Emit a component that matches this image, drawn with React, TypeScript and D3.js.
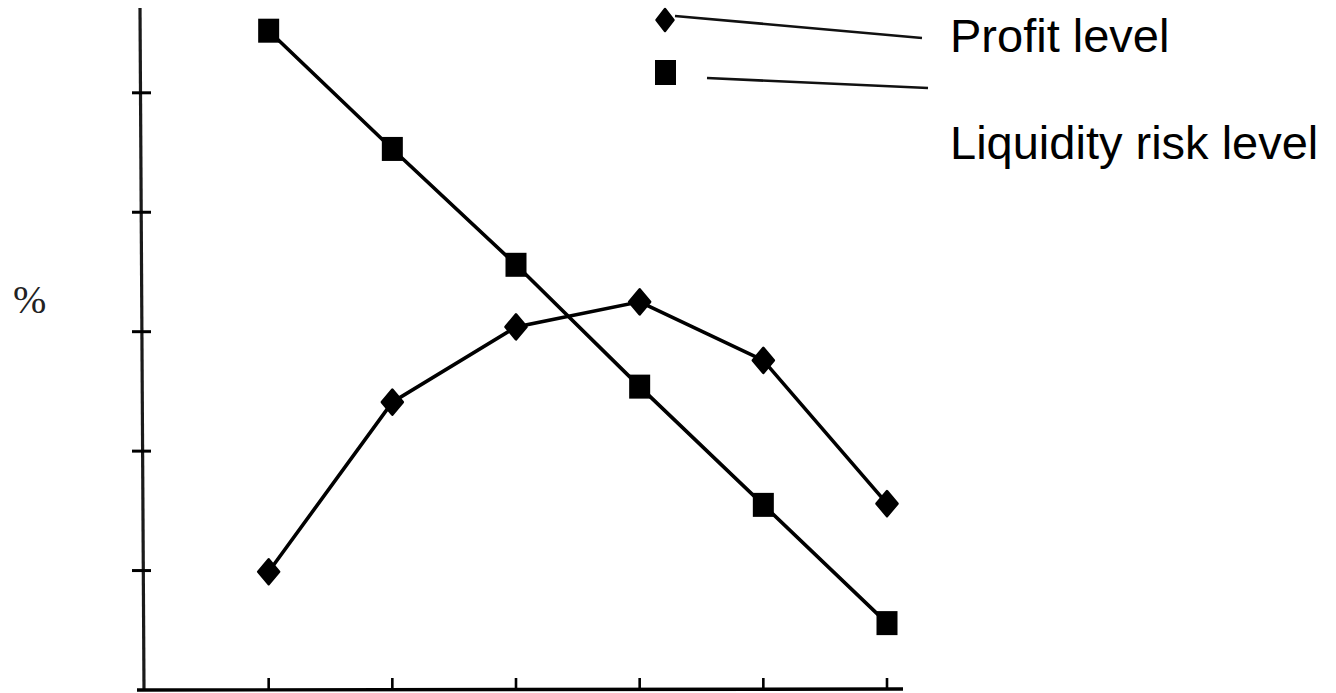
import React from "react";
import * as d3 from "d3";

const categories = [1, 2, 3, 4, 5, 6];
const profitLevel = [0.99, 2.41, 3.04, 3.25, 2.76, 1.56];
const liquidityRisk = [5.52, 4.53, 3.56, 2.54, 1.55, 0.56];
const yTicks = [1, 2, 3, 4, 5];
const seriesNames = ["Profit level", "Liquidity risk level"];
const yLabel = "%";

const W = 1336;
const H = 693;

export default function App() {
  const x = d3.scaleLinear().domain([0, 6]).range([145, 887]);
  const y = d3.scaleLinear().domain([0, 5.71]).range([690, 8]);

  const line = d3
    .line<number>()
    .x((_, i) => x(categories[i]))
    .y((d) => y(d));

  const diamond = (cx: number, cy: number, w: number, h: number) =>
    `M${cx},${cy - h / 2} L${cx + w / 2},${cy} L${cx},${cy + h / 2} L${cx - w / 2},${cy} Z`;

  const stroke = "#000";

  return (
    <svg
      width={W}
      height={H}
      style={{ position: "absolute", left: 0, top: 0, display: "block", background: "#fff" }}
    >
      {/* y axis */}
      <line x1={140} y1={y(5.71)} x2={144} y2={y(0)} stroke="#1a1a1a" strokeWidth={3.2} />
      {yTicks.map((t) => (
        <line key={t} x1={132} x2={151} y1={y(t)} y2={y(t)} stroke="#000" strokeWidth={3} />
      ))}
      {/* x axis */}
      <line x1={137} y1={y(0)} x2={903} y2={y(0) - 1} stroke="#000" strokeWidth={3.4} />
      {categories.map((c) => (
        <line key={c} x1={x(c)} x2={x(c)} y1={y(0)} y2={y(0) - 12} stroke="#000" strokeWidth={2.6} />
      ))}

      {/* y label */}
      <text x={13} y={313} fontFamily="'Liberation Serif', 'DejaVu Serif', serif" fontSize={40} fill="#222">
        {yLabel}
      </text>

      {/* liquidity series */}
      <path d={line(liquidityRisk) || ""} fill="none" stroke={stroke} strokeWidth={3.6} />
      {liquidityRisk.map((v, i) => (
        <rect key={i} x={x(categories[i]) - 10.5} y={y(v) - 12} width={21} height={24} fill="#000" />
      ))}

      {/* profit series */}
      <path d={line(profitLevel) || ""} fill="none" stroke={stroke} strokeWidth={3.6} />
      {profitLevel.map((v, i) => (
        <path
          key={i}
          d={diamond(x(categories[i]), y(v), 21, 25)}
          fill="#000"
          stroke="#000"
          strokeWidth={2.5}
          strokeLinejoin="round"
        />
      ))}

      {/* legend */}
      <path d={diamond(665, 20, 17, 22)} fill="#000" stroke="#000" strokeWidth={2.5} strokeLinejoin="round" />
      <line x1={675} y1={16} x2={922} y2={38} stroke="#111" strokeWidth={2.6} />
      <rect x={655} y={60} width={21} height={25} fill="#000" />
      <line x1={707} y1={78} x2={928} y2={88} stroke="#111" strokeWidth={2.6} />
      <text x={950} y={52} fontFamily="'Liberation Sans', Arial, sans-serif" fontSize={47} fill="#000">
        {seriesNames[0]}
      </text>
      <text x={950} y={159} fontFamily="'Liberation Sans', Arial, sans-serif" fontSize={47} fill="#000">
        {seriesNames[1]}
      </text>
    </svg>
  );
}
